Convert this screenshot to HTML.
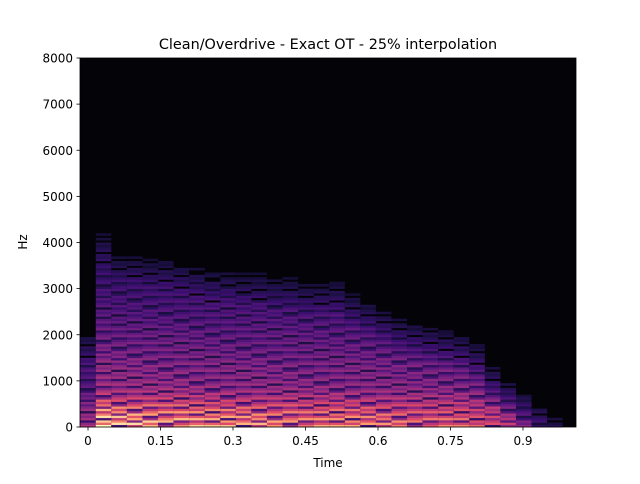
<!DOCTYPE html>
<html><head><meta charset="utf-8"><style>
body{margin:0;background:#fff;font-family:"DejaVu Sans","Liberation Sans",sans-serif;}
svg text{font-family:"DejaVu Sans","Liberation Sans",sans-serif;fill:#000}
</style></head><body>
<svg id="chart" width="640" height="480" xmlns="http://www.w3.org/2000/svg">
<rect x="0" y="0" width="640" height="480" fill="#fff"/>
<text x="328" y="49" font-size="14.4" text-anchor="middle">Clean/Overdrive - Exact OT - 25% interpolation</text>
<g id="plot"></g>
<g id="axes"></g>
<text x="328" y="467" font-size="12" text-anchor="middle">Time</text>
<text x="0" y="0" font-size="12" text-anchor="middle" transform="translate(27,242) rotate(-90)">Hz</text>
</svg>
<script>
// Data
const frameTimes = [0,0.0322,0.0644,0.0966,0.1288,0.161,0.1932,0.2254,0.2576,0.2898,0.322,0.3542,0.3864,0.4186,0.4508,0.483,0.5152,0.5474,0.5796,0.6118,0.644,0.6762,0.7084,0.7406,0.7728,0.805,0.8372,0.8694,0.9016,0.9338,0.966,0.9982];
const frameExtentHz = [2200,4800,4000,4000,3900,3900,3800,3700,3600,3600,3500,3500,3400,3400,3300,3300,3300,3000,2800,2600,2400,2300,2200,2100,2000,1800,1300,1000,700,450,220,0];
const frameGain = [0.6,1.0,0.97,0.97,0.96,0.95,0.95,0.94,0.93,0.93,0.92,0.92,0.91,0.91,0.9,0.9,0.9,0.9,0.89,0.88,0.87,0.86,0.85,0.85,0.84,0.8,0.76,0.7,0.62,0.52,0.4,0];
const bandFreqsHz = [0,200,400,600,800,1000,1300,1600,2000,2400,2800,3200,3600,4000,4500,5000];
const bandLevel = [1.0,0.96,0.88,0.76,0.64,0.59,0.56,0.5,0.45,0.38,0.33,0.28,0.22,0.15,0.1,0.08];
const stripe = [1,0.85,0.4,1,0.8,0.95,0.3,1,0.88,0.7,1,0.5,0.95,0.82,1,0.6,0.35,0.98,0.9,0.75,0.45,1,0.85,0.65];
const yTicks = [0,1000,2000,3000,4000,5000,6000,7000,8000];
const xTicks = [0,0.15,0.3,0.45,0.6,0.75,0.9];
const xTickLabels = ["0","0.15","0.3","0.45","0.6","0.75","0.9"];

const X0=80,X1=576,Y0=427,Y1=58;
const pxPerSec=(523-88)/0.9;
const xs=t=>88+t*pxPerSec;
const ys=f=>Y0-(f/8000)*(Y0-Y1);
const NS="http://www.w3.org/2000/svg";
const magma=[[0,[0,0,4]],[0.13,[28,16,68]],[0.25,[59,15,112]],[0.38,[100,26,128]],[0.5,[140,41,129]],[0.63,[183,55,121]],[0.75,[222,73,104]],[0.88,[254,159,109]],[1,[252,253,191]]];
function cmap(v){v=Math.max(0,Math.min(1,v));for(let i=1;i<magma.length;i++){if(v<=magma[i][0]){const a=magma[i-1],b=magma[i];const t=(v-a[0])/(b[0]-a[0]);const c=a[1].map((x,k)=>Math.round(x+(b[1][k]-x)*t));return `rgb(${c[0]},${c[1]},${c[2]})`;}}return "rgb(252,253,191)";}
function level(f){for(let i=1;i<bandFreqsHz.length;i++){if(f<=bandFreqsHz[i]){const t=(f-bandFreqsHz[i-1])/(bandFreqsHz[i]-bandFreqsHz[i-1]);return bandLevel[i-1]+(bandLevel[i]-bandLevel[i-1])*t;}}return bandLevel[bandLevel.length-1];}
const plot=document.getElementById('plot');
const bg=document.createElementNS(NS,'rect');


bg.setAttribute('x',X0);bg.setAttribute('y',Y1);bg.setAttribute('width',X1-X0);bg.setAttribute('height',Y0-Y1);bg.setAttribute('fill','#040308');
plot.appendChild(bg);
const binHz=50;
const dt=frameTimes[1]-frameTimes[0];
frameTimes.forEach((t,c)=>{
  const xa=Math.max(X0,xs(t-dt/2)),xb=Math.min(X1,xs(t+dt/2));
  const ext=frameExtentHz[c],g=frameGain[c];
  for(let r=0;r*binHz<ext;r++){
    const f=r*binHz;
    let v=level(f)*g*stripe[(r+c*3)%stripe.length];
    const edge=Math.min(1,(ext-f)/1200+0.25);
    v*=edge;
    if(v<0.1)continue;
    const cell=document.createElementNS(NS,'rect');
    
    
    const ya=ys(f+binHz),yb=ys(f);
    cell.setAttribute('x',xa.toFixed(2));cell.setAttribute('y',ya.toFixed(2));
    cell.setAttribute('width',(xb-xa).toFixed(2));cell.setAttribute('height',(yb-ya+0.3).toFixed(2));
    cell.setAttribute('fill',cmap(v));
    plot.appendChild(cell);
  }
});
const axes=document.getElementById('axes');
const frame=document.createElementNS(NS,'rect');


frame.setAttribute('x',X0);frame.setAttribute('y',Y1);frame.setAttribute('width',X1-X0);frame.setAttribute('height',Y0-Y1);frame.setAttribute('fill','none');frame.setAttribute('stroke','#000');frame.setAttribute('stroke-width','0.8');
axes.appendChild(frame);
yTicks.forEach(v=>{
  const y=ys(v);
  const l=document.createElementNS(NS,'line');
  
  
  l.setAttribute('x1',X0-3.5);l.setAttribute('x2',X0);l.setAttribute('y1',y);l.setAttribute('y2',y);l.setAttribute('stroke','#000');l.setAttribute('stroke-width','0.8');
  axes.appendChild(l);
  const tx=document.createElementNS(NS,'text');
  
  
  tx.setAttribute('x',X0-7);tx.setAttribute('y',y+4.5);tx.setAttribute('font-size','12');tx.setAttribute('text-anchor','end');
  tx.textContent=String(v);
  axes.appendChild(tx);
});
xTicks.forEach((v,i)=>{
  const x=xs(v);
  const l=document.createElementNS(NS,'line');
  
  
  l.setAttribute('x1',x);l.setAttribute('x2',x);l.setAttribute('y1',Y0);l.setAttribute('y2',Y0+3.5);l.setAttribute('stroke','#000');l.setAttribute('stroke-width','0.8');
  axes.appendChild(l);
  const tx=document.createElementNS(NS,'text');
  
  
  tx.setAttribute('x',x);tx.setAttribute('y',Y0+18);tx.setAttribute('font-size','12');tx.setAttribute('text-anchor','middle');
  tx.textContent=xTickLabels[i];
  axes.appendChild(tx);
});
</script>
</body></html>
